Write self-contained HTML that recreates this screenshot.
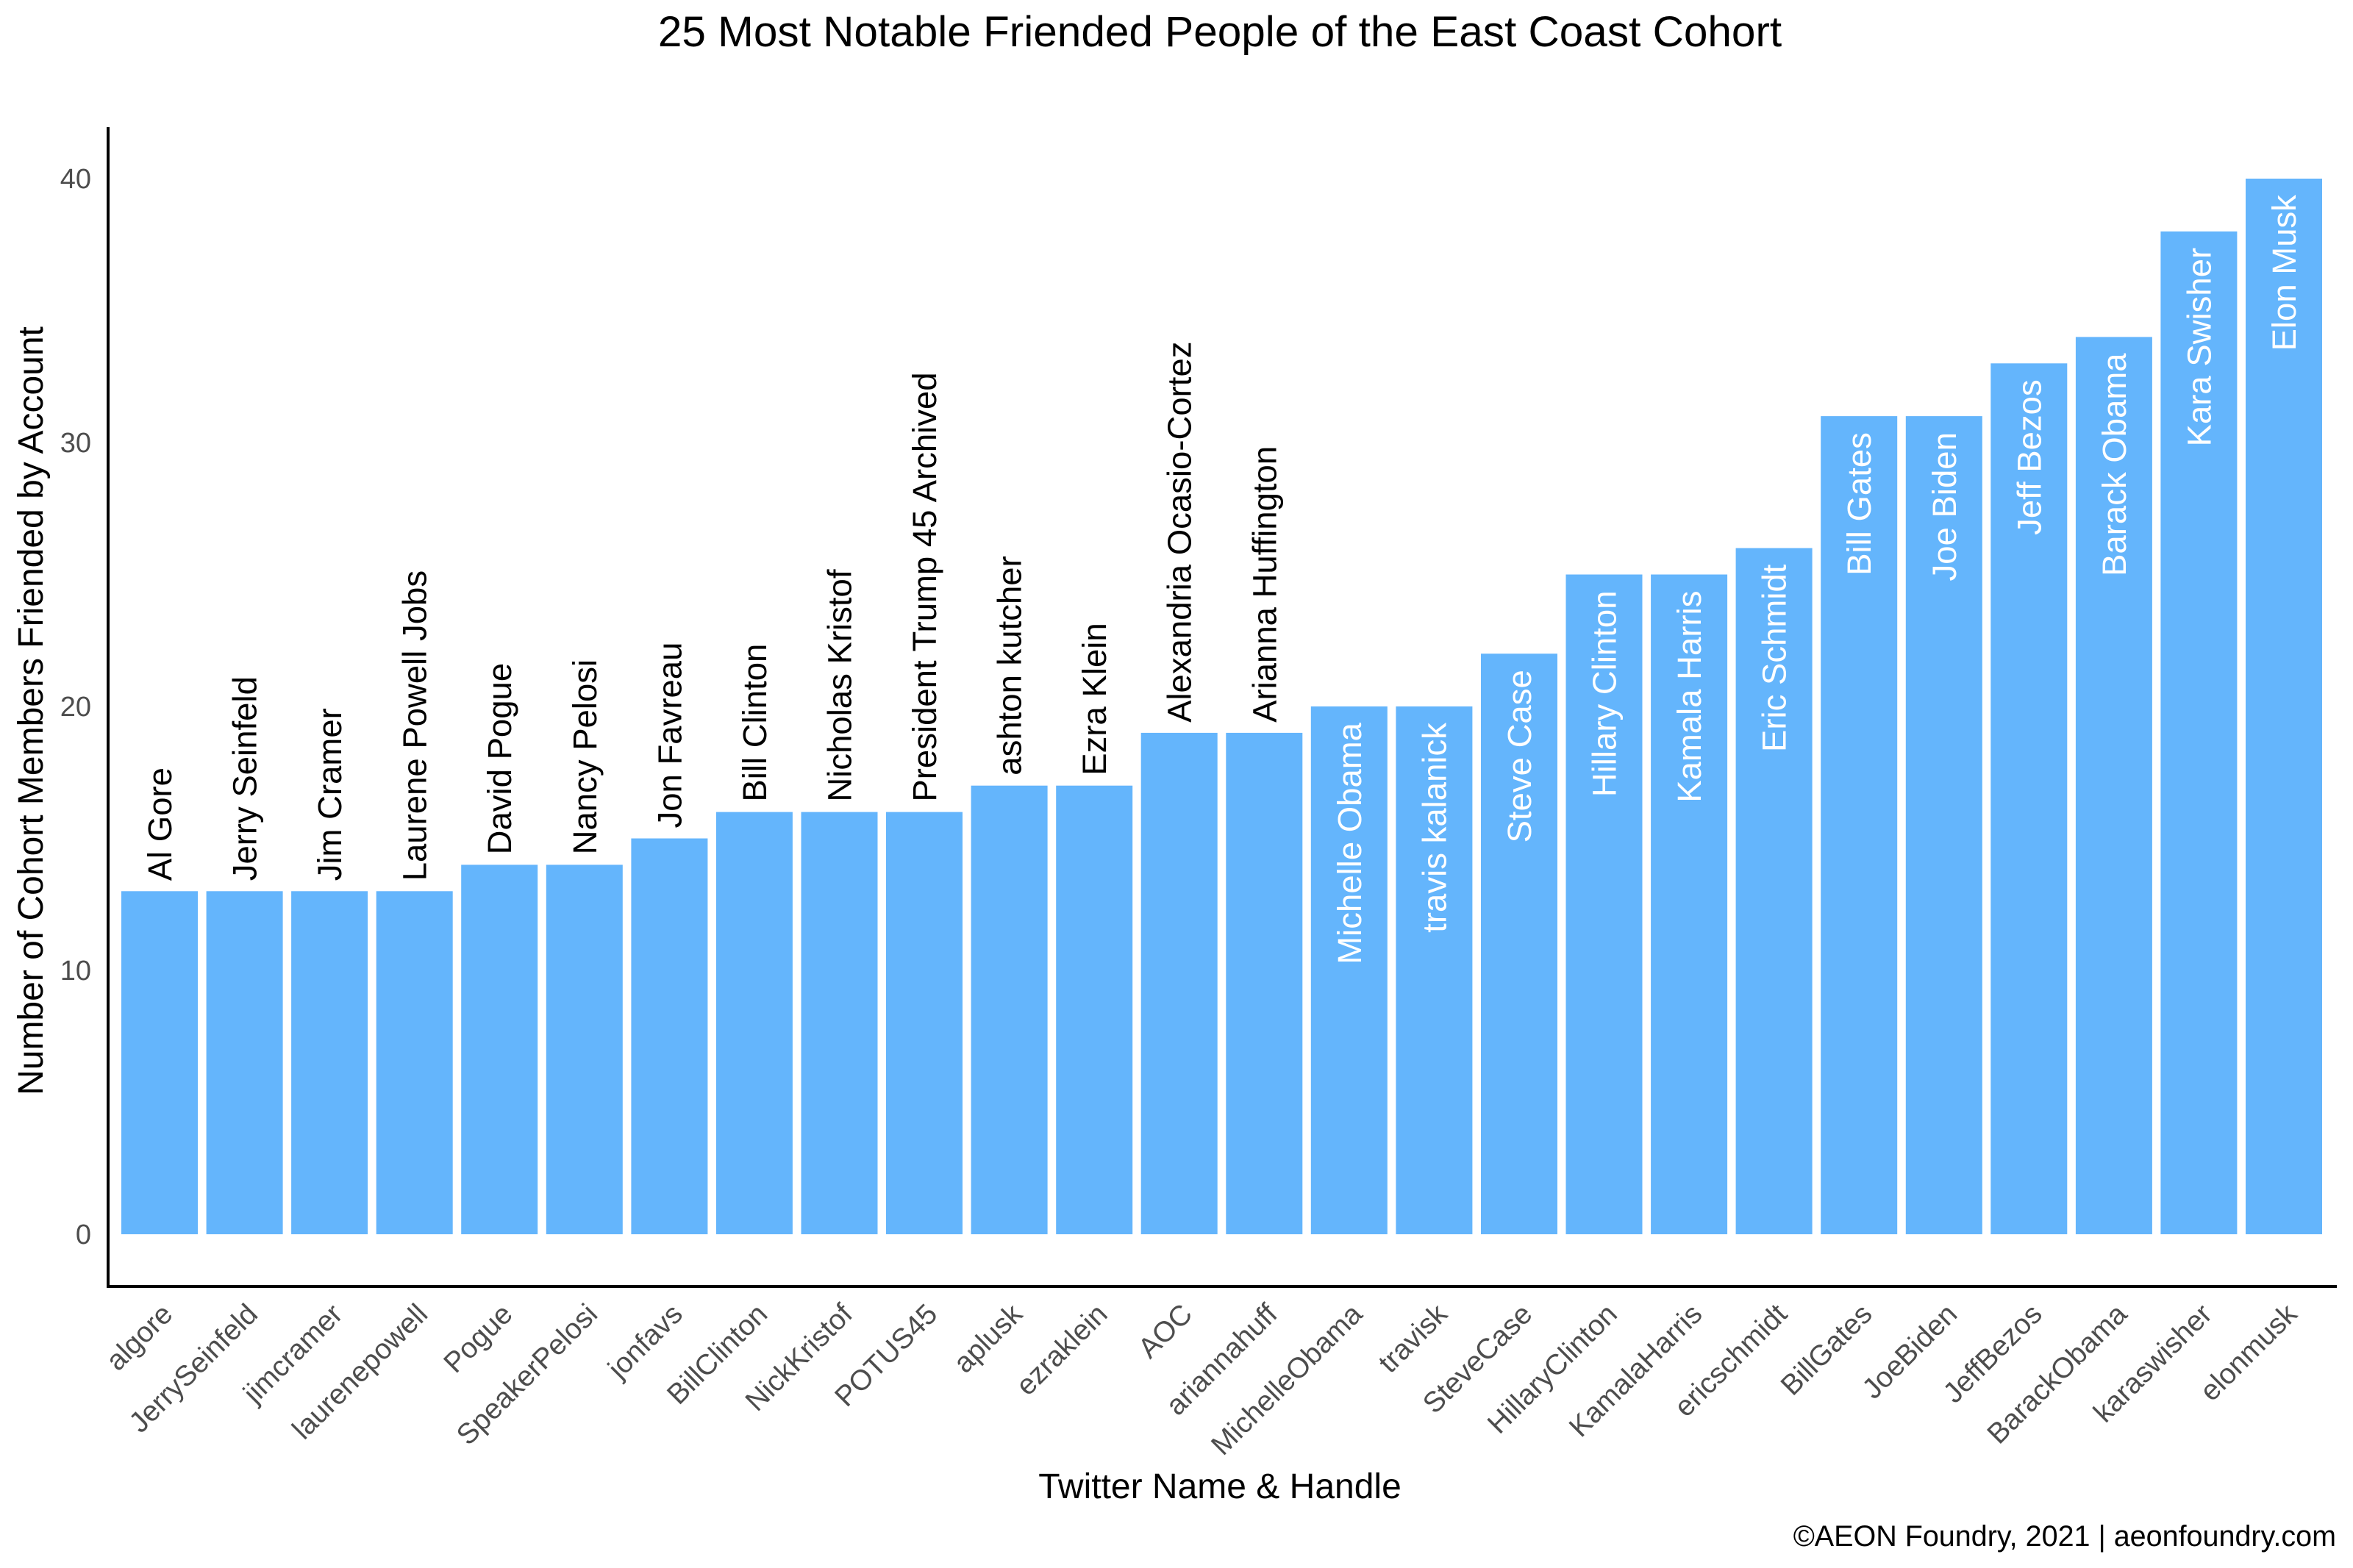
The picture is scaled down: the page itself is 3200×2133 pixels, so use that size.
<!DOCTYPE html>
<html><head><meta charset="utf-8"><style>
html,body{margin:0;padding:0;background:#fff;}
svg{display:block;font-family:"Liberation Sans",Arial,sans-serif;}
</style></head><body>
<svg width="3200" height="2133" viewBox="0 0 3200 2133" xmlns="http://www.w3.org/2000/svg">
<rect width="3200" height="2133" fill="#fff"/>
<text x="1659" y="63" font-size="58.5" text-anchor="middle" fill="#000">25 Most Notable Friended People of the East Coast Cohort</text>
<g id="bars"></g>
<line x1="147" y1="173" x2="147" y2="1752" stroke="#000" stroke-width="4"/>
<line x1="145" y1="1750" x2="3178" y2="1750" stroke="#000" stroke-width="4"/>
<g font-size="38" fill="#4d4d4d" text-anchor="end">
<text x="124" y="1692">0</text>
<text x="124" y="1333">10</text>
<text x="124" y="974">20</text>
<text x="124" y="615">30</text>
<text x="124" y="256">40</text>
</g>
<text transform="translate(58,967) rotate(-90)" font-size="48" text-anchor="middle" fill="#000">Number of Cohort Members Friended by Account</text>
<text x="1659" y="2038" font-size="48" text-anchor="middle" fill="#000">Twitter Name &amp; Handle</text>
<text x="3177" y="2103" font-size="39.5" text-anchor="end" fill="#000">©AEON Foundry, 2021 | aeonfoundry.com</text>
<g id="g"></g>
</svg>
<script>
var d=[["algore","Al Gore",13],["JerrySeinfeld","Jerry Seinfeld",13],["jimcramer","Jim Cramer",13],["laurenepowell","Laurene Powell Jobs",13],["Pogue","David Pogue",14],["SpeakerPelosi","Nancy Pelosi",14],["jonfavs","Jon Favreau",15],["BillClinton","Bill Clinton",16],["NickKristof","Nicholas Kristof",16],["POTUS45","President Trump 45 Archived",16],["aplusk","ashton kutcher",17],["ezraklein","Ezra Klein",17],["AOC","Alexandria Ocasio-Cortez",19],["ariannahuff","Arianna Huffington",19],["MichelleObama","Michelle Obama",20],["travisk","travis kalanick",20],["SteveCase","Steve Case",22],["HillaryClinton","Hillary Clinton",25],["KamalaHarris","Kamala Harris",25],["ericschmidt","Eric Schmidt",26],["BillGates","Bill Gates",31],["JoeBiden","Joe Biden",31],["JeffBezos","Jeff Bezos",33],["BarackObama","Barack Obama",34],["karaswisher","Kara Swisher",38],["elonmusk","Elon Musk",40]];
var s="",y0=1679,u=35.9;
d.forEach(function(r,i){
 var x=165+i*115.56,w=104,cx=x+w/2,top=y0-r[2]*u;
 s+='<rect x="'+x.toFixed(1)+'" y="'+top.toFixed(1)+'" width="'+w+'" height="'+(y0-top).toFixed(1)+'" fill="#64b5fc"/>';
 if(r[2]>=20){
  s+='<text transform="translate('+(cx+16).toFixed(1)+','+(top+22).toFixed(1)+') rotate(-90)" font-size="45.5" text-anchor="end" fill="#fff">'+r[1]+'</text>';
 } else {
  s+='<text transform="translate('+(cx+16).toFixed(1)+','+(top-14).toFixed(1)+') rotate(-90)" font-size="45.5" text-anchor="start" fill="#000">'+r[1]+'</text>';
 }
 s+='<text transform="translate('+(cx+20).toFixed(1)+',1790) rotate(-45)" font-size="39" text-anchor="end" fill="#4d4d4d">'+r[0]+'</text>';
});
document.getElementById("g").innerHTML=s;
</script>
</body></html>
